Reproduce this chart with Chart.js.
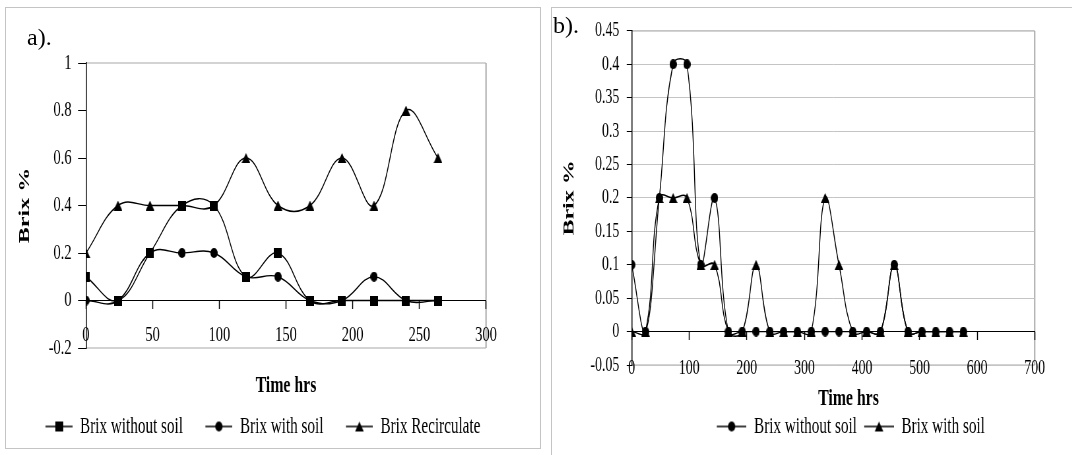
<!DOCTYPE html>
<html>
<head>
<meta charset="utf-8">
<title>Brix % over time</title>
<script src="https://cdn.jsdelivr.net/npm/chart.js@4.4.1/dist/chart.umd.min.js"></script>
<style>
    html, body { margin: 0; padding: 0; background: #fff; overflow: hidden; }
    #fig { position: relative; width: 1072px; height: 455px; overflow: hidden;
           font-family: 'Liberation Serif', 'Times New Roman', serif; }
    .panel { position: absolute; box-sizing: border-box; border: 1.5px solid #c4c4c4; }
    #panelA { left: 5px; top: 7px; width: 536px; height: 442px; }
    #panelB { left: 551px; top: 7px; width: 600px; height: 470px; }
    .tag { position: absolute; font-size: 24px; line-height: 1; color: #000; }
    canvas { position: absolute; }
</style>
</head>
<body>
<div id="fig">
    <div class="panel" id="panelA"></div>
    <div class="panel" id="panelB"></div>
    <!-- canvases are drawn wide and shown narrow: gives the tall, condensed serif look -->
    <canvas id="chartA" width="767" height="441" style="left:0;top:7px;width:506px;height:441px"></canvas>
    <canvas id="chartB" width="902" height="448" style="left:551px;top:7px;width:595px;height:448px"></canvas>
    <div class="tag" style="left:27px;top:25px">a).</div>
    <div class="tag" style="left:553px;top:13px">b).</div>
</div>

<script>
(function () {
    'use strict';

    // -------- dados --------
    // a) sampling every 24 h
    const hoursA = [0, 24, 48, 72, 96, 120, 144, 168, 192, 216, 240, 264];
    const brixNoSoilA = [0.1, 0, 0.2, 0.4, 0.4, 0.1, 0.2, 0, 0, 0, 0, 0];
    const brixSoilA = [0, 0, 0.2, 0.2, 0.2, 0.1, 0.1, 0, 0, 0.1, 0, 0];
    const brixRecircA = [0.2, 0.4, 0.4, 0.4, 0.4, 0.6, 0.4, 0.4, 0.6, 0.4, 0.8, 0.6];
    const seriesNamesA = ['Brix without soil', 'Brix with soil', 'Brix Recirculate'];

    // b) longer run, same interval
    const hoursB = [0, 24, 48, 72, 96, 120, 144, 168, 192, 216, 240, 264, 288,
                    312, 336, 360, 384, 408, 432, 456, 480, 504, 528, 552, 576];
    const brixNoSoilB = [0.1, 0, 0.2, 0.4, 0.4, 0.1, 0.2, 0, 0, 0, 0, 0, 0,
                         0, 0, 0, 0, 0, 0, 0.1, 0, 0, 0, 0, 0];
    const brixSoilB = [0, 0, 0.2, 0.2, 0.2, 0.1, 0.1, 0, 0, 0.1, 0, 0, 0,
                       0, 0.2, 0.1, 0, 0, 0, 0.1, 0, 0, 0, 0, 0];
    const seriesNamesB = ['Brix without soil', 'Brix with soil'];

    // axis ranges: [min, max, step]
    const xRangeA = [0, 300, 50];
    const yRangeA = [-0.2, 1, 0.2];
    const xRangeB = [0, 700, 100];
    const yRangeB = [-0.05, 0.45, 0.05];

    const X_TITLE = 'Time hrs';
    const Y_TITLE = 'Brix %';

    // -------- utils --------
    const SERIF = "'Liberation Serif', 'Times New Roman', serif";
    Chart.defaults.font.family = SERIF;
    Chart.defaults.color = '#000';

    const fmt = v => String(+Number(v).toFixed(2));

    function markerImage(shape, w, h) {
        const c = document.createElement('canvas');
        c.width = w; c.height = h;
        const g = c.getContext('2d');
        g.fillStyle = '#000';
        g.beginPath();
        if (shape === 'square') g.rect(0, 0, w, h);
        else if (shape === 'circle') g.ellipse(w / 2, h / 2, w / 2, h / 2, 0, 0, Math.PI * 2);
        else { g.moveTo(w / 2, 0); g.lineTo(w, h); g.lineTo(0, h); g.closePath(); }
        g.fill();
        return c;
    }

    const MARKERS = {
        square: markerImage('square', 12, 10),
        circle: markerImage('circle', 11, 10),
        triangle: markerImage('triangle', 13, 10)
    };

    // legend swatch: short line with the marker in the middle, blank margin on the left
    function legendIcon(shape, margin, len) {
        const m = MARKERS[shape];
        const c = document.createElement('canvas');
        c.width = margin + len; c.height = 12;
        const g = c.getContext('2d');
        g.strokeStyle = '#000';
        g.lineWidth = 1.4;
        g.beginPath(); g.moveTo(margin, 6); g.lineTo(margin + len, 6); g.stroke();
        g.drawImage(m, margin + len / 2 - m.width / 2, 6 - m.height / 2);
        return c;
    }

    function series(xs, ys, label, shape) {
        return {
            label,
            data: xs.map((x, i) => ({ x, y: ys[i] })),
            borderColor: '#000',
            backgroundColor: '#000',
            borderWidth: 1.4,
            pointStyle: MARKERS[shape],
            pointRadius: 5,
            tension: 0.4,
            fill: false,
            yAxisID: 'y'
        };
    }

    // gray frame around the plot area (left side is the y axis itself)
    const plotFrame = {
        id: 'plotFrame',
        beforeDraw(chart) {
            const { ctx, chartArea: { left, top, right, bottom } } = chart;
            ctx.save();
            ctx.strokeStyle = '#a8a8a8';
            ctx.lineWidth = 1.2;
            ctx.beginPath();
            ctx.moveTo(left, top); ctx.lineTo(right, top);
            ctx.moveTo(left, bottom); ctx.lineTo(right, bottom);
            ctx.stroke();
            ctx.lineWidth = 2;
            ctx.beginPath(); ctx.moveTo(right, top); ctx.lineTo(right, bottom); ctx.stroke();
            ctx.restore();
        }
    };

    function buildChart(id, p) {
        const icons = p.shapes.map(s => legendIcon(s, p.iconMargin, p.iconLen));
        return new Chart(document.getElementById(id), {
            type: 'line',
            data: { datasets: p.datasets },
            plugins: [plotFrame],
            options: {
                responsive: false,
                devicePixelRatio: 1,
                animation: false,
                events: [],
                layout: { padding: { top: p.top, right: 0, bottom: p.bottom, left: 0 } },
                plugins: {
                    tooltip: { enabled: false },
                    legend: {
                        position: 'bottom',
                        labels: {
                            usePointStyle: true,
                            pointStyleWidth: p.iconMargin + p.iconLen,
                            padding: 4,
                            color: '#000',
                            font: { size: 23 },
                            generateLabels(chart) {
                                return Chart.defaults.plugins.legend.labels.generateLabels(chart)
                                    .map((item, i) => ({ ...item, pointStyle: icons[i] }));
                            }
                        }
                    },
                    title: {
                        display: true,
                        text: X_TITLE,
                        position: 'bottom',
                        weight: 500, // sits between the plot and the legend
                        fullSize: p.titleFull, // false: centred under the plot only
                        color: '#000',
                        font: { size: 24, weight: 'bold', lineHeight: 1 },
                        padding: p.titlePad
                    }
                },
                scales: {
                    x: {
                        type: 'linear',
                        position: { y: 0 },
                        min: p.xRange[0], max: p.xRange[1],
                        afterFit: s => { s.height = 0; },
                        border: { color: '#000', width: 1 },
                        grid: { drawOnChartArea: false, tickLength: 8, tickColor: '#000', tickWidth: 1.5 },
                        ticks: {
                            stepSize: p.xRange[2], padding: p.xTickPad, autoSkip: false,
                            maxRotation: 0, color: '#000', font: { size: p.tickFont }
                        }
                    },
                    y: {
                        type: 'linear',
                        min: p.yRange[0], max: p.yRange[1],
                        afterFit: s => { s.width = p.yWidth; },
                        border: { color: '#000', width: 1.5 },
                        grid: {
                            drawOnChartArea: p.gridLines,
                            color: '#c4c4c4',
                            lineWidth: 1,
                            tickLength: p.yTickLen,
                            tickColor: '#000'
                        },
                        ticks: {
                            stepSize: p.yRange[2], padding: p.yTickPad,
                            color: '#000', font: { size: p.tickFont }, callback: fmt
                        },
                        title: {
                            display: true, text: Y_TITLE, color: '#000',
                            font: { size: 24, weight: 'bold' },
                            padding: { top: p.yTitlePad, bottom: 0 }
                        }
                    },
                    // empty axis on the right: keeps room between the plot and the panel edge
                    room: {
                        type: 'linear',
                        position: 'right',
                        grid: { display: false },
                        border: { display: false },
                        ticks: { display: false },
                        afterFit: s => { s.width = p.rightRoom; }
                    }
                }
            }
        });
    }

    // -------- a) --------
    buildChart('chartA', {
        datasets: [
            series(hoursA, brixNoSoilA, seriesNamesA[0], 'square'),
            series(hoursA, brixSoilA, seriesNamesA[1], 'circle'),
            series(hoursA, brixRecircA, seriesNamesA[2], 'triangle')
        ],
        shapes: ['square', 'circle', 'triangle'],
        iconMargin: 30, iconLen: 41,
        top: 56, bottom: 0, rightRoom: 24.6,
        titlePad: { top: 25.6, bottom: 13.4 }, titleFull: false,
        xRange: xRangeA, yRange: yRangeA,
        xTickPad: 13.8, tickFont: 22,
        yWidth: 130.3, yTickLen: 12, yTickPad: 9.7, yTitlePad: 23.5,
        gridLines: false
    });

    // -------- b) --------
    buildChart('chartB', {
        datasets: [
            series(hoursB, brixNoSoilB, seriesNamesB[0], 'circle'),
            series(hoursB, brixSoilB, seriesNamesB[1], 'triangle')
        ],
        shapes: ['circle', 'triangle'],
        iconMargin: 7, iconLen: 45,
        top: 23.7, bottom: 7, rightRoom: 168.7,
        titlePad: { top: 22, bottom: 0 }, titleFull: true,
        xRange: xRangeB, yRange: yRangeB,
        xTickPad: 15.8, tickFont: 21,
        yWidth: 122.3, yTickLen: 7.5, yTickPad: 11.3, yTitlePad: 12.9,
        gridLines: true
    });
})();
</script>
</body>
</html>
